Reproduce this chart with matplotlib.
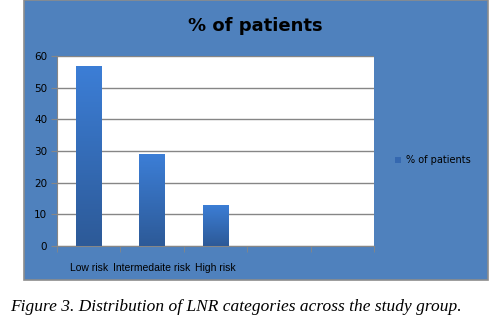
import numpy as np
import matplotlib
matplotlib.use("Agg")
import matplotlib.pyplot as plt
from matplotlib.patches import Rectangle
from matplotlib.colors import LinearSegmentedColormap

categories = ["Low risk", "Intermedaite risk", "High risk", "", ""]
values = [57, 29, 13, 0, 0]
series_name = "% of patients"
yticks = [0, 10, 20, 30, 40, 50, 60]

W, H = 496, 326
fig = plt.figure(figsize=(W / 100, H / 100), dpi=100)
fig.patch.set_facecolor("white")

# blue chart area, behind the axes
fig.patches.append(Rectangle((24 / W, 46 / H), 464 / W, 1 - 46 / H, transform=fig.transFigure,
                             facecolor="#4f81bd", edgecolor="#8c8c8c", linewidth=1.2, zorder=-5))

ax = fig.add_axes([57 / W, 80 / H, 317 / W, 190 / H])
ax.set_zorder(1)
ax.set_facecolor("white")
x = np.arange(len(categories))
n_real = 3
bars = ax.bar(x[:n_real], values[:n_real], width=0.4, color="#3568b0", zorder=3)

grad = LinearSegmentedColormap.from_list("g", ["#2d5a98", "#3c7ed6"])
for b in bars:
    x0, y0 = b.get_x(), b.get_y()
    im = ax.imshow(np.linspace(0, 1, 64).reshape(-1, 1), cmap=grad, origin="lower", aspect="auto",
                   extent=[x0, x0 + b.get_width(), y0, y0 + b.get_height()], zorder=4)
    im.set_clip_path(b)

ax.set_xlim(-0.5, len(categories) - 0.5)
ax.set_ylim(0, 60)
ax.set_yticks(yticks)
ax.yaxis.grid(True, color="#868686", linewidth=1)
ax.set_axisbelow(True)
ax.tick_params(axis="y", length=4, color="#868686", labelsize=7.5, labelcolor="black", pad=3)

ax.set_xticks(x)
ax.set_xticklabels(categories, fontsize=7.5, family="Liberation Sans")
ax.set_xticks(np.arange(-0.5, len(categories)), minor=True)
ax.tick_params(axis="x", which="major", length=0, pad=12)
ax.tick_params(axis="x", which="minor", length=4, color="#868686")

for s in ["top", "right"]:
    ax.spines[s].set_visible(False)
for s in ["left", "bottom"]:
    ax.spines[s].set_color("#868686")

fig.text(255 / W, 1 - 26 / H, series_name, ha="center", va="center", fontsize=13, fontweight="bold")

# legend
fig.patches.append(Rectangle((395 / W, 1 - 163 / H), 6 / W, 6 / H, transform=fig.transFigure,
                             facecolor="#3568b0", edgecolor="none", zorder=2))
fig.text(406 / W, 1 - 160 / H, series_name, ha="left", va="center", fontsize=7)

fig.text(10 / W, 1 - 307 / H, "Figure 3. Distribution of LNR categories across the study group.",
         ha="left", va="center", fontsize=12.5, family="Liberation Serif", style="italic")

fig.savefig("out.png", dpi=100)
